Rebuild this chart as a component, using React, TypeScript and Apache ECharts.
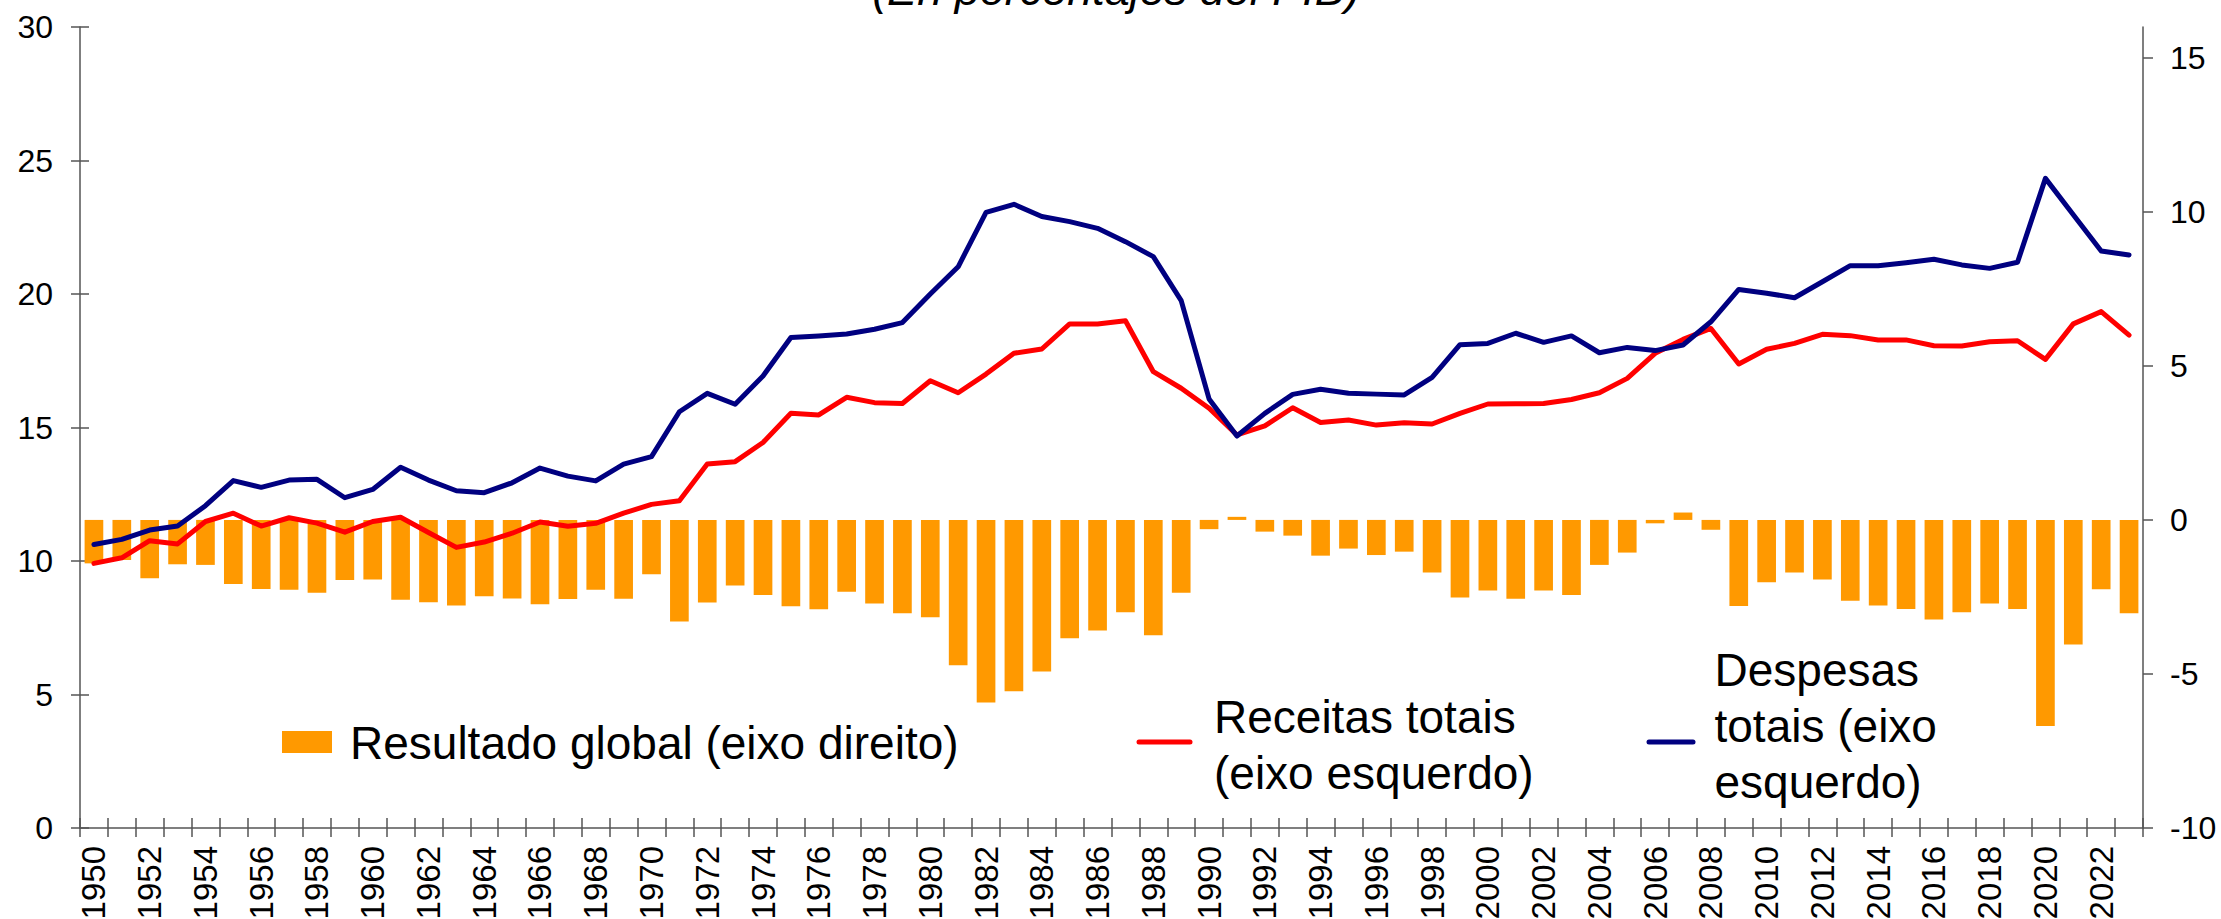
import React, { useEffect, useRef } from "react";
import * as echarts from "echarts";

const years: string[] = [
  "1950","1951","1952","1953","1954","1955","1956","1957","1958","1959",
  "1960","1961","1962","1963","1964","1965","1966","1967","1968","1969",
  "1970","1971","1972","1973","1974","1975","1976","1977","1978","1979",
  "1980","1981","1982","1983","1984","1985","1986","1987","1988","1989",
  "1990","1991","1992","1993","1994","1995","1996","1997","1998","1999",
  "2000","2001","2002","2003","2004","2005","2006","2007","2008","2009",
  "2010","2011","2012","2013","2014","2015","2016","2017","2018","2019",
  "2020","2021","2022","2023",
];

// Resultado global (% do PIB, eixo direito)
const resultadoGlobal: number[] = [
  -1.41, -1.3, -1.89, -1.44, -1.46, -2.08, -2.24, -2.27, -2.36, -1.95,
  -1.93, -2.59, -2.67, -2.78, -2.48, -2.55, -2.74, -2.57, -2.27, -2.56,
  -1.76, -3.3, -2.68, -2.13, -2.44, -2.8, -2.9, -2.33, -2.71, -3.03,
  -3.16, -4.72, -5.93, -5.56, -4.92, -3.84, -3.59, -3.0, -3.74, -2.36,
  -0.3, 0.1, -0.38, -0.51, -1.16, -0.93, -1.14, -1.03, -1.71, -2.52,
  -2.29, -2.56, -2.29, -2.44, -1.46, -1.06, -0.11, 0.24, -0.32, -2.79,
  -2.02, -1.71, -1.93, -2.62, -2.78, -2.89, -3.23, -3.0, -2.71, -2.89,
  -6.69, -4.04, -2.25, -3.03,
];

// Receitas totais (% do PIB, eixo esquerdo)
const receitasTotais: number[] = [
  9.91, 10.12, 10.76, 10.64, 11.48, 11.79, 11.31, 11.62, 11.42, 11.08,
  11.48, 11.64, 11.07, 10.51, 10.71, 11.04, 11.46, 11.3, 11.41, 11.79,
  12.12, 12.26, 13.63, 13.72, 14.44, 15.53, 15.47, 16.13, 15.93, 15.9,
  16.75, 16.3, 17.0, 17.78, 17.94, 18.88, 18.88, 19.0, 17.09, 16.47,
  15.72, 14.72, 15.06, 15.74, 15.19, 15.28, 15.09, 15.18, 15.13, 15.53,
  15.88, 15.89, 15.9, 16.05, 16.3, 16.84, 17.78, 18.3, 18.71, 17.38,
  17.93, 18.15, 18.49, 18.44, 18.28, 18.28, 18.06, 18.05, 18.21, 18.25,
  17.55, 18.88, 19.34, 18.46,
];

// Despesas totais (% do PIB, eixo esquerdo)
const despesasTotais: number[] = [
  10.62, 10.81, 11.16, 11.31, 12.07, 13.01, 12.76, 13.03, 13.06, 12.37,
  12.68, 13.51, 13.03, 12.63, 12.56, 12.93, 13.48, 13.18, 13.0, 13.63,
  13.91, 15.59, 16.28, 15.87, 16.93, 18.37, 18.43, 18.5, 18.68, 18.93,
  20.0, 21.02, 23.06, 23.36, 22.9, 22.71, 22.46, 21.96, 21.4, 19.75,
  16.07, 14.68, 15.53, 16.24, 16.43, 16.28, 16.25, 16.22, 16.88, 18.1,
  18.15, 18.53, 18.19, 18.43, 17.8, 18.0, 17.88, 18.09, 18.96, 20.17,
  20.03, 19.86, 20.46, 21.06, 21.06, 21.17, 21.3, 21.09, 20.96, 21.19,
  24.33, 22.97, 21.61, 21.46,
];

const leftTicks: number[] = [0, 5, 10, 15, 20, 25, 30];
const rightTicks: number[] = [-10, -5, 0, 5, 10, 15];

const seriesNames = {
  resultado: "Resultado global (eixo direito)",
  receitas: "Receitas totais (eixo esquerdo)",
  despesas: "Despesas totais (eixo esquerdo)",
};

const COLORS = {
  bar: "#FF9900",
  red: "#FF0000",
  blue: "#000080",
  axis: "#555555",
};

const FONT = "'Liberation Sans', Arial, sans-serif";

export default function App() {
  const ref = useRef<HTMLDivElement>(null);

  useEffect(() => {
    if (!ref.current) return;
    const chart = echarts.init(ref.current, undefined, { renderer: "svg" });

    const axisLineStyle = { color: COLORS.axis, width: 1.5 };
    const labelStyle = { color: "#000", fontSize: 32, fontFamily: FONT };

    const option: any = {
      animation: false,
      backgroundColor: "#ffffff",
      grid: {
        left: 80,
        right: 78,
        top: 27,
        bottom: 91,
        containLabel: false,
        outerBoundsMode: "none",
      },
      xAxis: [
        {
          type: "category",
          data: years,
          position: "bottom",
          boundaryGap: true,
          axisLine: { show: true, onZero: false, lineStyle: axisLineStyle },
          axisTick: {
            show: true,
            interval: 0,
            length: 9,
            alignWithLabel: false,
            lineStyle: axisLineStyle,
          },
          axisLabel: {
            interval: 1,
            rotate: 90,
            margin: 18,
            color: "#000",
            fontSize: 33,
            fontFamily: FONT,
          },
          splitLine: { show: false },
        },
        {
          type: "category",
          data: years,
          position: "bottom",
          boundaryGap: true,
          axisLine: { show: false, onZero: false },
          axisTick: {
            show: true,
            inside: true,
            interval: 0,
            length: 10,
            alignWithLabel: false,
            lineStyle: axisLineStyle,
          },
          axisLabel: { show: false },
          splitLine: { show: false },
        },
      ],
      yAxis: [
        {
          type: "value",
          position: "left",
          min: 0,
          max: 30,
          interval: 5,
          axisLine: { show: true, lineStyle: axisLineStyle },
          axisTick: { show: true, length: 9, lineStyle: axisLineStyle },
          axisLabel: { ...labelStyle, margin: 27, customValues: leftTicks },
          splitLine: { show: false },
        },
        {
          type: "value",
          position: "right",
          min: -10,
          max: 16,
          interval: 5,
          axisLine: { show: true, lineStyle: axisLineStyle },
          axisTick: {
            show: true,
            length: 10,
            lineStyle: axisLineStyle,
            customValues: rightTicks,
          },
          axisLabel: { ...labelStyle, margin: 27, customValues: rightTicks },
          splitLine: { show: false },
        },
        {
          type: "value",
          position: "left",
          min: 0,
          max: 30,
          interval: 5,
          axisLine: { show: false },
          axisTick: { show: true, inside: true, length: 9, lineStyle: axisLineStyle },
          axisLabel: { show: false },
          splitLine: { show: false },
        },
      ],
      series: [
        {
          name: seriesNames.resultado,
          type: "bar",
          xAxisIndex: 0,
          yAxisIndex: 1,
          data: resultadoGlobal,
          barWidth: "67%",
          itemStyle: { color: COLORS.bar },
          z: 1,
        },
        {
          name: seriesNames.receitas,
          type: "line",
          xAxisIndex: 0,
          yAxisIndex: 0,
          data: receitasTotais,
          symbol: "none",
          lineStyle: { color: COLORS.red, width: 5, join: "round", cap: "round" },
          itemStyle: { color: COLORS.red },
          z: 3,
        },
        {
          name: seriesNames.despesas,
          type: "line",
          xAxisIndex: 0,
          yAxisIndex: 0,
          data: despesasTotais,
          symbol: "none",
          lineStyle: { color: COLORS.blue, width: 5, join: "round", cap: "round" },
          itemStyle: { color: COLORS.blue },
          z: 4,
        },
      ],
      graphic: [
        {
          type: "text",
          x: 1116,
          y: -10.5,
          style: {
            text: "(En porcentajes del PIB)",
            fill: "#000",
            font: `italic 45px ${FONT}`,
            align: "center",
            verticalAlign: "middle",
          },
        },
        {
          type: "rect",
          shape: { x: 282, y: 731, width: 50, height: 22 },
          style: { fill: COLORS.bar },
        },
        {
          type: "text",
          x: 350,
          y: 743,
          style: {
            text: "Resultado global (eixo direito)",
            fill: "#000",
            font: `46px ${FONT}`,
            align: "left",
            verticalAlign: "middle",
          },
        },
        {
          type: "line",
          shape: { x1: 1139, y1: 742, x2: 1190, y2: 742 },
          style: { stroke: COLORS.red, lineWidth: 5, lineCap: "round" },
        },
        {
          type: "text",
          x: 1214,
          y: 745,
          style: {
            text: "Receitas totais\n(eixo esquerdo)",
            fill: "#000",
            font: `46px ${FONT}`,
            lineHeight: 56,
            align: "left",
            verticalAlign: "middle",
          },
        },
        {
          type: "line",
          shape: { x1: 1649, y1: 742, x2: 1693, y2: 742 },
          style: { stroke: COLORS.blue, lineWidth: 5, lineCap: "round" },
        },
        {
          type: "text",
          x: 1714.5,
          y: 726,
          style: {
            text: "Despesas\ntotais (eixo\nesquerdo)",
            fill: "#000",
            font: `46px ${FONT}`,
            lineHeight: 56,
            align: "left",
            verticalAlign: "middle",
          },
        },
      ],
    };

    chart.setOption(option);
    return () => {
      chart.dispose();
    };
  }, []);

  return (
    <div
      ref={ref}
      style={{
        position: "fixed",
        left: 0,
        top: 0,
        width: 2221,
        height: 919,
        background: "#fff",
      }}
    />
  );
}
